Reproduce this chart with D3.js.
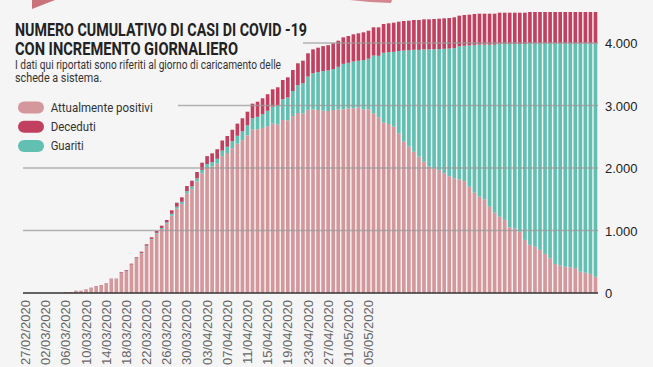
<!DOCTYPE html>
<html><head><meta charset="utf-8">
<script src="https://cdn.jsdelivr.net/npm/d3@7"></script>
<style>
html,body{margin:0;padding:0;background:#f5f5f5;}
svg{display:block;}
</style></head>
<body>
<svg id="chart" width="653" height="367"></svg>
<script>
const dates = [
"27/02/2020","28/02/2020","29/02/2020",
"01/03/2020","02/03/2020","03/03/2020","04/03/2020","05/03/2020","06/03/2020","07/03/2020","08/03/2020","09/03/2020","10/03/2020",
"11/03/2020","12/03/2020","13/03/2020","14/03/2020","15/03/2020","16/03/2020","17/03/2020","18/03/2020","19/03/2020","20/03/2020",
"21/03/2020","22/03/2020","23/03/2020","24/03/2020","25/03/2020","26/03/2020","27/03/2020","28/03/2020","29/03/2020","30/03/2020","31/03/2020",
"01/04/2020","02/04/2020","03/04/2020","04/04/2020","05/04/2020","06/04/2020","07/04/2020","08/04/2020","09/04/2020","10/04/2020",
"11/04/2020","12/04/2020","13/04/2020","14/04/2020","15/04/2020","16/04/2020","17/04/2020","18/04/2020","19/04/2020","20/04/2020",
"21/04/2020","22/04/2020","23/04/2020","24/04/2020","25/04/2020","26/04/2020","27/04/2020","28/04/2020","29/04/2020","30/04/2020",
"01/05/2020","02/05/2020","03/05/2020","04/05/2020","05/05/2020","06/05/2020","07/05/2020","08/05/2020","09/05/2020","10/05/2020",
"11/05/2020","12/05/2020","13/05/2020","14/05/2020","15/05/2020","16/05/2020","17/05/2020","18/05/2020","19/05/2020","20/05/2020",
"21/05/2020","22/05/2020","23/05/2020","24/05/2020","25/05/2020","26/05/2020","27/05/2020","28/05/2020","29/05/2020","30/05/2020","31/05/2020",
"01/06/2020","02/06/2020","03/06/2020","04/06/2020","05/06/2020","06/06/2020","07/06/2020","08/06/2020","09/06/2020","10/06/2020",
"11/06/2020","12/06/2020","13/06/2020","14/06/2020","15/06/2020","16/06/2020","17/06/2020","18/06/2020","19/06/2020"
];

const positivi = [
0,0,0,0,0,0,0,0,15,15,
35,35,56,81,107,122,146,218,218,322,
352,450,548,634,748,855,950,1025,1108,1238,
1349,1423,1590,1660,1784,1914,2000,2025,2070,2190,
2240,2318,2389,2445,2521,2618,2619,2641,2670,2709,
2699,2768,2763,2830,2880,2872,2930,2939,2928,2917,
2912,2928,2939,2939,2955,2955,2965,2939,2939,2875,
2811,2725,2704,2661,2555,2421,2341,2260,2181,2100,
2020,1995,1970,1915,1870,1835,1820,1790,1700,1605,
1540,1500,1380,1285,1220,1170,1050,1030,980,850,
770,740,690,625,555,465,440,420,410,400,
340,325,305,260
];

const deceduti = [
0,0,0,0,0,0,0,0,1,1,
2,2,3,4,5,6,6,8,8,10,
12,14,17,20,23,26,30,36,40,55,
64,72,82,92,102,115,128,140,152,162,
172,182,195,208,220,232,242,252,264,278,
292,308,322,336,350,360,372,382,390,398,
405,412,418,425,430,435,440,444,448,452,
456,460,463,466,469,472,474,476,478,480,
482,484,486,488,489,490,491,492,493,494,
495,495,496,496,497,497,498,498,499,499,
500,500,500,501,501,501,502,502,502,502,
502,502,502,502
];

const guariti = [
0,0,0,0,0,0,0,0,0,0,
0,0,0,0,0,0,3,3,3,4,
4,5,6,7,8,10,12,16,20,30,
32,36,40,45,50,56,62,70,78,88,
100,112,126,142,160,180,200,222,246,272,
300,332,366,402,445,485,533,578,607,635,
648,655,680,727,727,749,750,788,810,924,
984,1119,1148,1198,1317,1459,1542,1632,1709,1799,
1877,1905,1933,1992,2041,2086,2126,2166,2260,2365,
2434,2474,2593,2688,2768,2818,2937,2957,3006,3136,
3226,3256,3306,3370,3440,3530,3554,3574,3584,3594,
3654,3669,3689,3734
];

const tickLabels = ["27/02/2020","02/03/2020","06/03/2020","10/03/2020","14/03/2020","18/03/2020",
"22/03/2020","26/03/2020","30/03/2020","03/04/2020","07/04/2020","11/04/2020","15/04/2020",
"19/04/2020","23/04/2020","27/04/2020","01/05/2020","05/05/2020"];

const yTicks = [0,1000,2000,3000,4000];
const seriesNames = ["Attualmente positivi","Deceduti","Guariti"];
const seriesKeys = ["positivi","guariti","deceduti"];
const colors = {positivi:"#d3979c", deceduti:"#c2405f", guariti:"#62c0b3"};

const rows = dates.map((d,i)=>({date:d, positivi:positivi[i], guariti:guariti[i], deceduti:deceduti[i]}));

const svg = d3.select("#chart");
const W = 653, H = 367;
svg.append("rect").attr("width",W).attr("height",H).attr("fill","#f5f5f5");

const x0 = 23, x1 = 598, yBase = 293;
const x = d3.scaleBand().domain(dates).range([x0,x1]).paddingInner(0.28).paddingOuter(0.14);
const y = d3.scaleLinear().domain([0,4000]).range([yBase,43]);

// decorative shapes cropped from the page above
svg.append("path").attr("d","M32,0 L32,9 L55,0 Z").attr("fill","#c9727b");
svg.append("path").attr("d","M350,0 L392,0 L391,3 L370,2 Z").attr("fill","#cc6a78").attr("opacity",0.8);

const stack = d3.stack().keys(seriesKeys)(rows);
svg.append("g").selectAll("g").data(stack).join("g")
  .attr("fill", d=>colors[d.key])
  .selectAll("rect").data(d=>d).join("rect")
  .attr("x", d=>x(d.data.date))
  .attr("width", x.bandwidth())
  .attr("y", d=>y(d[1]))
  .attr("height", d=>Math.max(0, y(d[0])-y(d[1])));

// gridlines (start offsets leave room for the text block)
const gridStart = {1000:x0, 2000:x0, 3000:178, 4000:303};
svg.append("g").selectAll("line").data(yTicks.filter(t=>t>0)).join("line")
  .attr("x1", d=>gridStart[d]).attr("x2", x1)
  .attr("y1", d=>y(d)).attr("y2", d=>y(d))
  .attr("stroke","#9a9a9a").attr("stroke-opacity",0.75).attr("stroke-width",1.5);

// baseline
svg.append("line").attr("x1",x0).attr("x2",x1).attr("y1",yBase).attr("y2",yBase)
  .attr("stroke","#333").attr("stroke-width",1.5);

// y axis
const loc = d3.formatLocale({decimal:",", thousands:".", grouping:[3], currency:["","€"]});
const yAxis = d3.axisRight(y).tickValues(yTicks).tickSize(0).tickPadding(0).tickFormat(loc.format(",d"));
const gy = svg.append("g").attr("transform",`translate(${605},0)`).call(yAxis);
gy.select(".domain").remove();
gy.selectAll("text").attr("font-family","'Liberation Sans', Arial, sans-serif").attr("font-size",13).attr("fill","#222").attr("dy","0.35em");

// x axis
const xAxis = d3.axisBottom(x).tickValues(tickLabels).tickSize(0).tickPadding(0);
const gx = svg.append("g").attr("transform",`translate(0,${yBase})`).call(xAxis);
gx.select(".domain").remove();
gx.selectAll("text")
  .attr("font-family","'Liberation Sans', Arial, sans-serif").attr("font-size",13).attr("fill","#666")
  .attr("text-anchor","end").attr("transform","rotate(-90)")
  .attr("x",-7).attr("y",0).attr("dy","0.35em");

// titles
const tf = "Roboto, 'Noto Sans', sans-serif";
svg.append("text").attr("x",15).attr("y",36).attr("font-family",tf).attr("font-weight",700)
  .attr("font-size",17.5).attr("fill","#222").attr("textLength",292).attr("lengthAdjust","spacingAndGlyphs")
  .text("NUMERO CUMULATIVO DI CASI DI COVID -19");
svg.append("text").attr("x",15).attr("y",54.5).attr("font-family",tf).attr("font-weight",700)
  .attr("font-size",17.5).attr("fill","#222").attr("textLength",223).attr("lengthAdjust","spacingAndGlyphs")
  .text("CON INCREMENTO GIORNALIERO");
svg.append("text").attr("x",15).attr("y",68.5).attr("font-family",tf)
  .attr("font-size",12).attr("fill","#333").attr("textLength",266).attr("lengthAdjust","spacingAndGlyphs")
  .text("I dati qui riportati sono riferiti al giorno di caricamento delle");
svg.append("text").attr("x",15).attr("y",81.5).attr("font-family",tf)
  .attr("font-size",12).attr("fill","#333").attr("textLength",87).attr("lengthAdjust","spacingAndGlyphs")
  .text("schede a sistema.");

// legend
const legendColors = [colors.positivi, colors.deceduti, colors.guariti];
const legendW = [102, 45, 33];
const lg = svg.append("g");
seriesNames.forEach((n,i)=>{
  const cy = 107.5 + i*19.2;
  lg.append("rect").attr("x",18).attr("y",cy-6).attr("width",26).attr("height",12).attr("rx",6)
    .attr("fill",legendColors[i]);
  lg.append("text").attr("x",50.7).attr("y",cy+4.5).attr("font-family",tf).attr("font-size",13)
    .attr("fill","#333").attr("textLength",legendW[i]).attr("lengthAdjust","spacingAndGlyphs").text(n);
});
</script>
</body></html>
